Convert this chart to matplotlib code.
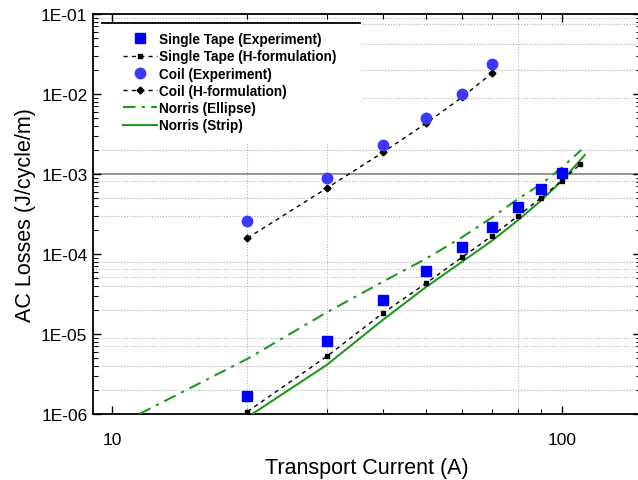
import matplotlib
matplotlib.use('Agg')
import matplotlib.pyplot as plt
from matplotlib.patches import Rectangle
from matplotlib.ticker import FixedLocator, FuncFormatter, LogLocator, NullFormatter
import numpy as np

plt.rcParams['font.family'] = ['Liberation Sans', 'DejaVu Sans']

# values
tape_current = [20, 30, 40, 50, 60, 70, 80, 90, 100]
tape_exp = [1.69e-6, 8.25e-6, 2.67e-5, 6.08e-5, 1.21e-4, 2.19e-4, 3.84e-4, 6.44e-4, 1.03e-3]

tape_h_current = [20, 30, 40, 50, 60, 70, 80, 90, 100, 110]
tape_h = [1.07e-6, 5.24e-6, 1.82e-5, 4.34e-5, 9.1e-5, 1.69e-4, 3.0e-4, 5.06e-4, 8.24e-4, 1.33e-3]

coil_current = [20, 30, 40, 50, 60, 70]
coil_exp = [2.58e-4, 8.83e-4, 2.30e-3, 4.97e-3, 1.0e-2, 2.37e-2]
coil_h = [1.58e-4, 6.63e-4, 1.86e-3, 4.34e-3, 9.1e-3, 1.83e-2]

ellipse_current = [11.5, 20, 30, 40, 50, 60, 70, 80, 90, 100, 110.5]
ellipse_loss = [1.0e-6, 4.9e-6, 1.86e-5, 4.5e-5, 8.8e-5, 1.62e-4, 2.87e-4, 4.9e-4, 7.5e-4, 1.2e-3, 2.0e-3]

strip_current = [20.5, 30, 40, 50, 60, 70, 80, 90, 100, 112.5]
strip_loss = [1.0e-6, 4.1e-6, 1.5e-5, 3.9e-5, 8.0e-5, 1.47e-4, 2.66e-4, 4.68e-4, 8.2e-4, 1.73e-3]

labels = ["Single Tape (Experiment)", "Single Tape (H-formulation)", "Coil (Experiment)",
          "Coil (H-formulation)", "Norris (Ellipse)", "Norris (Strip)"]

grid_x = [20, 30, 80]
grid_y = [9e-2, 7.5e-2, 4.2e-2, 2e-2, 9e-3, 2e-3, 8.2e-4, 5e-4, 3e-4, 8e-5, 6.5e-5,
          5.1e-5, 4e-5, 2e-5, 9e-6, 7e-6, 4e-6, 2e-6]

fig = plt.figure(figsize=(6.38, 4.81), dpi=100)
ax = fig.add_axes([93/638, 66/481, 548/638, 400/481])
ax.set_xscale('log')
ax.set_yscale('log')
ax.set_xlim(9.07, 150)
ax.set_ylim(1e-6, 1e-1)

gcol = '#b4b4b4'
for gx in grid_x:
    ax.axvline(gx, color=gcol, ls=(0, (1, 1.5)), lw=0.8, zorder=1)
for gy in grid_y:
    ax.axhline(gy, color=gcol, ls=(0, (1, 1.5)), lw=0.8, zorder=1)
ax.axhline(1e-3, color='#8c8c8c', lw=1.3, zorder=1)

# legend background + top rule
ax.add_patch(Rectangle((0, 0.675), 0.49, 0.3, transform=ax.transAxes,
                       facecolor='white', edgecolor='none', zorder=1.5))
ax.plot([(102-93)/548, (360-93)/548], [0.9775, 0.9775], transform=ax.transAxes,
        color='k', lw=1.3, zorder=1.6, clip_on=False)

green = '#1e9b1e'
ax.plot(tape_current, tape_exp, 's', color='#0000ff', ms=7, ls='none', zorder=5, label=labels[0])
ax.plot(tape_h_current, tape_h, color='k', ls=(0, (3, 3)), lw=1, marker='s', ms=3.5, zorder=4, label=labels[1])
ax.plot(coil_current, coil_exp, 'o', color='#3a3aff', ms=7.5, ls='none', zorder=5, label=labels[2])
ax.plot(coil_current, coil_h, color='k', ls=(0, (3, 3)), lw=1, marker='D', ms=3.5, zorder=4, label=labels[3])
ax.plot(ellipse_current, ellipse_loss, color=green, ls=(0, (6, 3, 1.5, 3)), lw=1.5, zorder=3, label=labels[4])
ax.plot(strip_current, strip_loss, color=green, ls='-', lw=1.5, zorder=3, label=labels[5])

ax.legend(loc='upper left', bbox_to_anchor=(123/638, 1-33/481), bbox_transform=fig.transFigure,
          frameon=False, prop={'weight': 'bold', 'size': 9.8}, handlelength=2.5,
          handletextpad=0.15, labelspacing=0.24, borderpad=0, borderaxespad=0, numpoints=1)

ax.xaxis.set_major_locator(FixedLocator([10, 100]))
ax.xaxis.set_minor_locator(FixedLocator([20, 30, 40, 50, 60, 70, 80, 90]))
ax.xaxis.set_major_formatter(FuncFormatter(lambda v, p: f"{v:g}"))
ax.xaxis.set_minor_formatter(NullFormatter())
ax.yaxis.set_major_locator(LogLocator(base=10))
ax.yaxis.set_minor_locator(LogLocator(base=10, subs=np.arange(2, 10)))
ax.yaxis.set_major_formatter(FuncFormatter(lambda v, p: f"1E-{int(round(-np.log10(v))):02d}"))
ax.yaxis.set_minor_formatter(NullFormatter())

ax.tick_params(which='both', direction='in', top=True, right=True, colors='k')
ax.tick_params(which='major', length=6, width=1)
ax.tick_params(which='minor', length=3.5, width=0.8)
ax.tick_params(axis='x', which='major', labelsize=12.5, pad=13)
ax.tick_params(axis='y', which='major', labelsize=12.5, pad=4)

for sp in ax.spines.values():
    sp.set_linewidth(1.3)

ax.set_xlabel('Transport Current (A)', fontsize=15.5, labelpad=7)
ax.set_ylabel('AC Losses (J/cycle/m)', fontsize=15.5, labelpad=4)

fig.savefig('out.png', dpi=100)
